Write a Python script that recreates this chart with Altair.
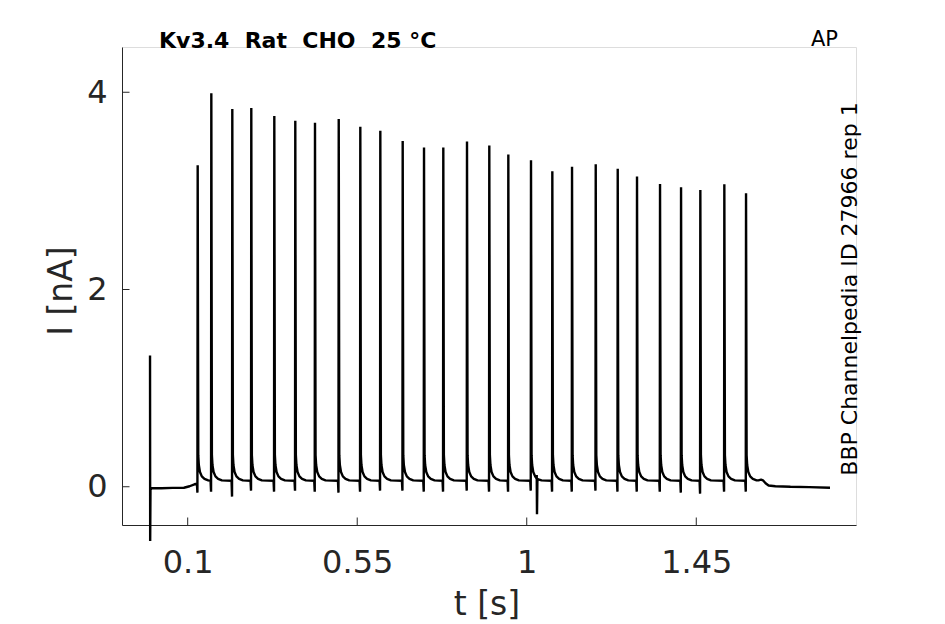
import altair as alt
import pandas as pd

# ---- data ----
spike_t = [0.1265, 0.1627, 0.2184, 0.2688, 0.3299, 0.3856, 0.4379, 0.5009, 0.5582,
           0.6113, 0.6707, 0.7273, 0.7785, 0.8414, 0.9006, 0.9511, 1.0113, 1.0679,
           1.1202, 1.1831, 1.2415, 1.2927, 1.3538, 1.4096, 1.4608, 1.5245, 1.5821]
spike_peak = [3.26, 3.99, 3.83, 3.84, 3.76, 3.71, 3.69, 3.73, 3.65,
              3.61, 3.505, 3.44, 3.44, 3.50, 3.46, 3.37, 3.31, 3.20,
              3.245, 3.27, 3.225, 3.147, 3.07, 3.036, 3.01, 3.066, 2.975]
spike_dip = [-0.06, -0.05, -0.10, -0.04, -0.05, -0.04, -0.05, -0.06, -0.05,
             -0.04, -0.04, -0.05, -0.05, -0.04, -0.05, -0.05, -0.04, -0.05,
             -0.05, -0.04, -0.05, -0.05, -0.05, -0.06, -0.07, -0.05, -0.05]
spike_base = [0.03] + [0.06] * 26
# shape of one response around its peak (offsets in s, levels in nA after the peak)
shape_dt_after = [0.0015, 0.003, 0.006, 0.011, 0.018, 0.028]
shape_i_after = [0.32, 0.22, 0.15, 0.105, 0.08, 0.065]

# start of the sweep (onset transient and holding baseline)
start_t = [0.0, 0.0004, 0.0012, 0.004, 0.03, 0.06, 0.09, 0.105, 0.118]
start_i = [1.33, -0.55, -0.03, -0.015, -0.015, -0.012, -0.01, 0.005, 0.025]
# small transient after the 17th response
mid_t = [1.0258, 1.0265, 1.0272, 1.0282, 1.031]
mid_i = [0.085, 0.12, -0.28, 0.05, 0.075]
# end of the sweep
tail_t = [1.615, 1.622, 1.627, 1.634, 1.642, 1.66, 1.70, 1.75, 1.805]
tail_i = [0.065, 0.072, 0.065, 0.035, 0.012, 0.005, 0.0, -0.004, -0.01]

x_ticks = [0.1, 0.55, 1, 1.45]
y_ticks = [0, 2, 4]

title_txt = "Kv3.4\u00a0\u00a0Rat\u00a0\u00a0CHO\u00a0\u00a025\u00a0°C"
corner_txt = "AP"
side_txt = "BBP Channelpedia ID 27966 rep 1"
xlab = "t [s]"
ylab = "I [nA]"

# ---- build the trace table ----
pts = list(zip(start_t, start_i))
for t, pk, dp, b in zip(spike_t, spike_peak, spike_dip, spike_base):
    pts.append((t - 0.002, b))
    pts.append((t - 0.0007, dp))
    pts.append((t, pk))
    for dt, v in zip(shape_dt_after, shape_i_after):
        pts.append((t + dt, v))
pts += list(zip(mid_t, mid_i))
pts += list(zip(tail_t, tail_i))
pts.sort(key=lambda p: p[0])
df = pd.DataFrame({"t": [p[0] for p in pts], "i": [p[1] for p in pts]})
df["k"] = range(len(df))

W, H = 734, 478
FONT = "DejaVu Sans"
AX = "#262626"

xs = alt.Scale(domain=[-0.0744, 1.874], nice=False, zero=False)
ys = alt.Scale(domain=[-0.388, 4.459], nice=False, zero=False)
x_axis = alt.Axis(values=x_ticks, labelExpr="format(datum.value, '')", title=None,
                  ticks=False, tickSize=0, labelPadding=22, labelFontSize=32,
                  labelColor=AX, labelFont=FONT, domainColor=AX, domainWidth=1,
                  grid=False, labelOverlap=False, labelFlush=False)
y_axis = alt.Axis(values=y_ticks, title=None, ticks=False, tickSize=0, labelPadding=15,
                  labelFontSize=32, labelColor=AX, labelFont=FONT, domainColor=AX,
                  domainWidth=1, grid=False, labelOverlap=False, labelFlush=False)

trace = alt.Chart(df).mark_line(color="black", strokeWidth=2.4, strokeJoin="bevel").encode(
    x=alt.X("t:Q", scale=xs, axis=x_axis),
    y=alt.Y("i:Q", scale=ys, axis=y_axis),
    order="k:Q",
)

xt = alt.Chart(pd.DataFrame({"t": x_ticks})).mark_rule(color=AX, strokeWidth=1).encode(
    x=alt.X("t:Q", scale=xs, axis=x_axis),
    y=alt.value(H), y2=alt.value(H - 7.5),
)
yt = alt.Chart(pd.DataFrame({"i": y_ticks})).mark_rule(color=AX, strokeWidth=1).encode(
    y=alt.Y("i:Q", scale=ys, axis=y_axis),
    x=alt.value(0), x2=alt.value(7.5),
)

def label(txt, x, y, size, angle=0, align="left", weight="normal", color="black"):
    kw = dict(font=FONT, fontSize=size, align=align, baseline="alphabetic",
              fontWeight=weight, color=color)
    if angle:
        kw["angle"] = angle
    return alt.Chart(pd.DataFrame({"s": [txt]})).mark_text(**kw).encode(
        text="s:N", x=alt.value(x), y=alt.value(y))

t1 = label(title_txt, 37, 0.5, 22, weight="bold")
t2 = label(corner_txt, 689, -1, 21)
t3 = label(side_txt, 735, 242, 22, angle=270, align="center")
t4 = label(xlab, W / 2 - 2, 568, 33, align="center", color=AX)
t5 = label(ylab, -50, 244, 33, angle=270, align="center", color=AX)

chart = alt.layer(trace, xt, yt, t1, t2, t3, t4, t5).properties(
    width=W, height=H,
    autosize=alt.AutoSizeParams(type="none"),
    padding={"left": 114, "top": 39, "right": 70, "bottom": 100},
).configure_view(stroke=None).configure(background="white")

chart.save("out.html", embed_options={"renderer": "svg", "actions": False})
